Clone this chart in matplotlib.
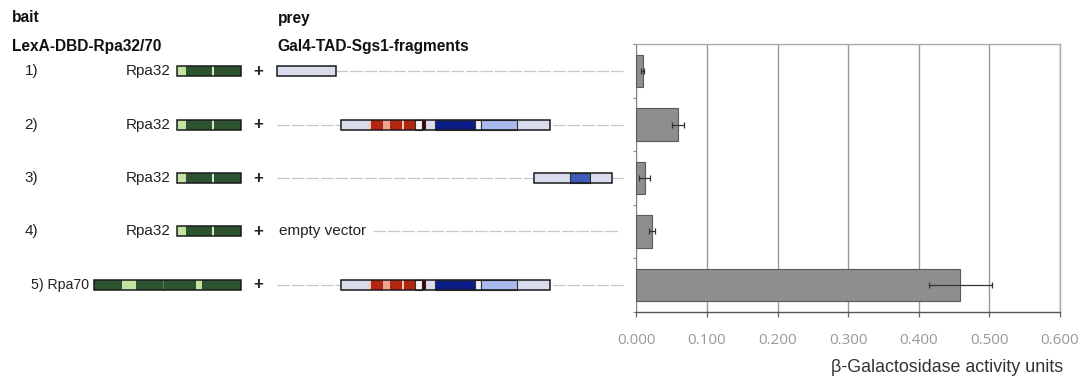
import matplotlib
matplotlib.use("Agg")
import matplotlib.pyplot as plt
from matplotlib.patches import Rectangle

plt.rcParams['font.family'] = ['Liberation Sans', 'DejaVu Sans']

# ---------------- data ----------------
row_labels = ["1)", "2)", "3)", "4)", "5)"]
bait_names = ["Rpa32", "Rpa32", "Rpa32", "Rpa32", "Rpa70"]
activity = [0.009, 0.059, 0.012, 0.022, 0.459]
activity_err = [0.002, 0.009, 0.008, 0.004, 0.045]
xtick_values = [0.0, 0.1, 0.2, 0.3, 0.4, 0.5, 0.6]
xtick_labels = ["0.000", "0.100", "0.200", "0.300", "0.400", "0.500", "0.600"]

# bait proteins (aa lengths and domain layout)
bait_length = {"Rpa32": 273, "Rpa70": 621}
bait_domains = {
    "Rpa32": [(0, 40, "light"), (40, 150, "dark"), (150, 157, "pale"), (157, 273, "dark")],
    "Rpa70": [(0, 118, "dark"), (118, 175, "light"), (175, 289, "dark"),
              (289, 430, "dark"), (430, 454, "light"), (454, 621, "dark")],
}

# prey Sgs1 fragments (aa ranges); None = empty vector
SGS1_LEN = 1447
prey_fragments = [(1, 245), (269, 1135), (1070, 1392), None, (269, 1135)]
sgs1_domains = [
    (382, 391, "pink"), (391, 440, "red"), (440, 470, "salmon"), (470, 519, "red"),
    (519, 528, "pink"), (528, 574, "red"), (574, 602, "white"), (602, 618, "darkred"),
    (657, 823, "navy"), (823, 847, "white"), (847, 999, "periwinkle"),
    (1218, 1301, "blue"),
]

# ---------------- styles ----------------
col = {
    "light": "#c6e2a2", "dark": "#2c5232", "pale": "#d8ecc0",
    "lav": "#d9dcec", "pink": "#f0c8bc", "red": "#b3260f", "salmon": "#eba48e",
    "white": "#f2f2f8", "darkred": "#3a0c06", "navy": "#0b1e88",
    "periwinkle": "#a9b8ee", "blue": "#3d5bb8",
}
edged = {"navy", "white", "periwinkle", "blue"}

W, H = 1084, 380
fig = plt.figure(figsize=(W / 100, H / 100), dpi=100)

# bar chart axes
ax_l, ax_r, ax_t, ax_b = 636.3, 1060.0, 44.3, 311.7
ax = fig.add_axes([ax_l / W, 1 - ax_b / H, (ax_r - ax_l) / W, (ax_b - ax_t) / H])
ypos = list(range(len(activity)))
ax.barh(ypos, activity, height=0.6, color="#8e8e8e", edgecolor="#5a5a5a",
        linewidth=0.8, zorder=3)
ax.errorbar(activity, ypos, xerr=activity_err, fmt="none", ecolor="#333333",
            elinewidth=0.9, capsize=2.5, capthick=0.9, zorder=4)
ax.set_xlim(0, 0.6)
ax.set_ylim(len(activity) - 0.5, -0.5)
ax.set_xticks(xtick_values)
ax.set_xticklabels(xtick_labels, fontsize=11, color="#999999", family=["Open Sans", "DejaVu Sans"])
ax.set_yticks([i - 0.5 for i in range(len(activity) + 1)])
ax.set_yticklabels([])
ax.tick_params(axis="x", direction="out", length=3.5, width=0.9, color="#666666", pad=12)
ax.tick_params(axis="y", direction="out", length=2.5, width=0.8, color="#888888")
ax.grid(axis="x", color="#999999", linewidth=1.0, zorder=0)
for s in ["top", "right"]:
    ax.spines[s].set_color("#aaaaaa")
    ax.spines[s].set_linewidth(1.0)
ax.spines["left"].set_color("#888888")
ax.spines["bottom"].set_color("#555555")
ax.spines["bottom"].set_linewidth(1.0)
ax.set_axisbelow(True)

fig.text(1063 / W, 1 - 368 / H, "β-Galactosidase activity units", ha="right",
         va="center", fontsize=12.9, color="#333333")

# overlay axes for the construct diagrams, in pixel units
dx = fig.add_axes([0, 0, 1, 1], zorder=-1)
dx.set_xlim(0, W)
dx.set_ylim(H, 0)
dx.axis("off")


def row_y(i):
    """pixel row centre of category i, via the bar chart's y scale"""
    y_bottom, y_top = ax.get_ylim()
    return ax_t + (i - y_top) / (y_bottom - y_top) * (ax_b - ax_t)


BAIT_RIGHT = 241.3
BAIT_PX_AA = 0.2365
PREY_X0, PREY_X1 = 277.0, 625.0
PREY_PX_AA = (PREY_X1 - PREY_X0) / SGS1_LEN
BOX_H = 10.0
txt_col = "#222222"
dash = (0, (10, 1.6))

hdr = dict(fontsize=11.2, fontweight="bold", va="center", color="#111111")
dx.text(12, 18, "bait", **hdr)
dx.text(12, 46, "LexA-DBD-Rpa32/70", **hdr)
dx.text(277.5, 18, "prey", **hdr)
dx.text(277.5, 46, "Gal4-TAD-Sgs1-fragments", **hdr)

for i in range(len(activity)):
    y = row_y(i)
    name = bait_names[i]
    blen = bait_length[name]
    bx0 = BAIT_RIGHT - blen * BAIT_PX_AA
    # labels
    if name == "Rpa32":
        dx.text(24.5, y, row_labels[i], fontsize=11, va="center", color=txt_col)
        dx.text(bx0 - 6, y, name, fontsize=11, va="center", ha="right", color=txt_col)
    else:
        dx.text(bx0 - 5, y, row_labels[i] + " " + name, fontsize=10.2, va="center",
                ha="right", color=txt_col)
    # bait box
    for a0, a1, kind in bait_domains[name]:
        dx.add_patch(Rectangle((bx0 + a0 * BAIT_PX_AA, y - BOX_H / 2), (a1 - a0) * BAIT_PX_AA,
                               BOX_H, facecolor=col[kind], edgecolor="none", zorder=2))
    if name == "Rpa70":
        dx.plot([bx0 + 289 * BAIT_PX_AA] * 2, [y - BOX_H / 2, y + BOX_H / 2],
                color="#5f7f60", lw=0.7, zorder=3)
    dx.add_patch(Rectangle((bx0, y - BOX_H / 2), blen * BAIT_PX_AA, BOX_H,
                           facecolor="none", edgecolor="#1a1a1a", lw=1.1, zorder=4))
    # plus sign
    dx.text(258.5, y, "+", fontsize=12, fontweight="bold", ha="center", va="center",
            color=txt_col)
    # prey
    frag = prey_fragments[i]
    if frag is None:
        dx.text(279, y, "empty vector", fontsize=11, va="center", color=txt_col)
        dx.plot([373, 620], [y, y], color="#c8c8c8", lw=0.9, ls=dash, zorder=1)
        continue
    dx.plot([PREY_X0, PREY_X1], [y, y], color="#c8c8c8", lw=0.9, ls=dash, zorder=1)
    f0, f1 = frag
    fx0 = PREY_X0 + (f0 - 1) * PREY_PX_AA
    fx1 = PREY_X0 + f1 * PREY_PX_AA
    dx.add_patch(Rectangle((fx0, y - BOX_H / 2), fx1 - fx0, BOX_H, facecolor=col["lav"],
                           edgecolor="none", zorder=2))
    for a0, a1, kind in sgs1_domains:
        s0, s1 = max(a0, f0), min(a1, f1)
        if s1 <= s0:
            continue
        x0 = PREY_X0 + s0 * PREY_PX_AA
        x1 = PREY_X0 + s1 * PREY_PX_AA
        dx.add_patch(Rectangle((x0, y - BOX_H / 2), x1 - x0, BOX_H, facecolor=col[kind],
                               edgecolor="#333333" if kind in edged else "none",
                               lw=0.8, zorder=3))
    dx.add_patch(Rectangle((fx0, y - BOX_H / 2), fx1 - fx0, BOX_H, facecolor="none",
                           edgecolor="#1a1a1a", lw=1.1, zorder=4))

fig.savefig("out.png", dpi=100)
